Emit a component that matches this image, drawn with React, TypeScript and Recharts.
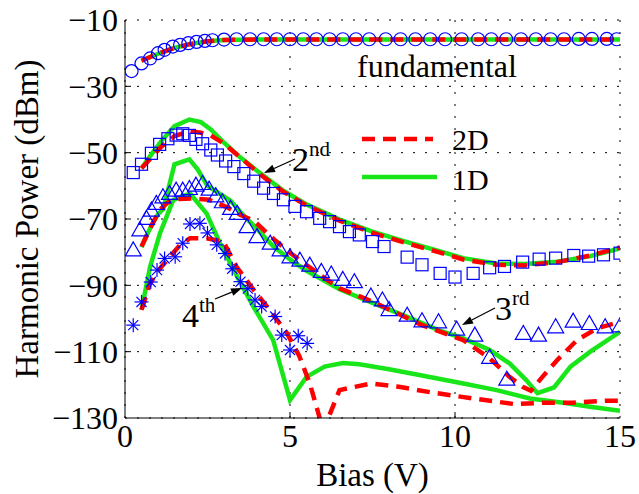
import { ComposedChart, Line, Scatter, XAxis, YAxis, CartesianGrid, Legend } from 'recharts';

const FONT = '"Liberation Serif", "Times New Roman", serif';
const BLUE = '#0000ff';
const RED = '#ff0000';
const GREEN = '#19e619';

const xTicks = [0, 5, 10, 15];
const yTicks = [-130, -110, -90, -70, -50, -30, -10];

// [bias (V), power (dBm)]
const fundMeasured: [number, number][] = [
  [0.2, -25.4], [0.5, -23.1], [0.76, -21.6], [1.0, -20.0], [1.2, -19.0], [1.45, -18.0],
  [1.67, -17.5], [1.92, -17.0], [2.17, -16.6], [2.42, -16.3], [2.65, -16.1], [3.0, -15.9],
  [3.38, -15.8], [3.79, -15.8], [4.2, -15.8], [4.6, -15.8], [5.0, -15.8], [5.4, -15.8],
  [5.8, -15.8], [6.2, -15.8], [6.6, -15.8], [7.0, -15.8], [7.4, -15.8], [7.9, -15.8],
  [8.35, -15.8], [8.8, -15.8], [9.25, -15.8], [9.7, -15.8], [10.2, -15.8], [10.7, -15.8],
  [11.1, -15.8], [11.55, -15.8], [12.0, -15.8], [12.45, -15.8], [12.9, -15.8], [13.3, -15.8],
  [13.75, -15.7], [14.15, -15.7], [14.6, -15.7], [14.9, -15.8],
];
const fund1D: [number, number][] = [
  [0.5, -22.3], [0.8, -21.0], [1.1, -19.8], [1.5, -18.4], [2.0, -17.2], [2.5, -16.4],
  [3.0, -16.0], [4.0, -15.9], [6.0, -15.9], [9.0, -15.9], [12.0, -15.9], [15.0, -15.9],
];
const fund2D: [number, number][] = [
  [0.5, -22.3], [0.8, -21.0], [1.1, -19.8], [1.5, -18.4], [2.0, -17.2], [2.5, -16.4],
  [3.0, -16.0], [4.0, -15.9], [6.0, -15.9], [9.0, -15.9], [12.0, -15.9], [15.0, -15.9],
];

const h2Measured: [number, number][] = [
  [0.25, -56], [0.5, -53.5], [0.8, -50.2], [1.05, -47.5], [1.3, -45.8], [1.55, -44.7],
  [1.75, -44.3], [1.95, -44.8], [2.15, -46], [2.35, -47.3], [2.6, -49.2], [2.8, -50.7],
  [3.05, -52.5], [3.3, -54.2], [3.6, -56.3], [3.9, -58.6], [4.2, -60.7], [4.5, -62.3],
  [4.8, -64.2], [5.15, -66.2], [5.5, -67.8], [5.9, -69.8], [6.2, -70.8], [6.5, -72.3],
  [6.8, -73.8], [7.1, -74.8], [7.5, -76.8], [7.85, -78.3], [8.55, -81.5], [9.0, -83.8],
  [9.55, -86.4], [10.0, -87.5], [10.55, -86.4], [11.05, -84.7], [11.5, -84.3], [12.05, -83.0],
  [12.55, -82.1], [13.05, -81.8], [13.6, -81.0], [14.05, -81.2], [14.5, -80.8], [15.0, -80.3],
];
const h2_1D: [number, number][] = [
  [0.5, -54.7], [0.8, -50.5], [1.1, -46.5], [1.5, -42.0], [1.95, -40.0], [2.3, -40.8],
  [2.6, -43.0], [3.0, -47.0], [3.5, -51.5], [4.1, -56.2], [4.8, -61.5], [5.5, -65.6],
  [6.5, -70.2], [7.5, -73.8], [8.5, -76.8], [9.5, -79.6], [10.25, -81.8], [11.25, -83.4],
  [12.1, -83.6], [13.1, -82.9], [14.1, -81.2], [15.0, -78.9],
];
const h2_2D: [number, number][] = [
  [0.5, -54.7], [0.8, -51.5], [1.1, -48.2], [1.5, -45.0], [1.95, -43.5], [2.3, -44.0],
  [2.6, -44.8], [3.0, -47.3], [3.5, -51.5], [4.1, -56.6], [4.8, -61.8], [5.5, -65.9],
  [6.5, -70.5], [7.5, -74.2], [8.5, -77.2], [9.5, -80.0], [10.25, -82.2], [11.25, -83.8],
  [12.1, -84.0], [13.1, -83.0], [14.1, -81.0], [15.0, -78.6],
];

const h3Measured: [number, number][] = [
  [0.25, -79.3], [0.45, -73.3], [0.65, -69.8], [0.8, -67.3], [0.95, -65.3], [1.15, -63.3],
  [1.35, -62.3], [1.55, -61.3], [1.75, -61.3], [1.95, -60.8], [2.15, -59.8], [2.35, -59.3],
  [2.55, -61.0], [2.75, -63.0], [2.95, -64.8], [3.2, -66.8], [3.4, -68.3], [3.7, -72.3],
  [4.0, -75.3], [4.4, -77.3], [4.7, -79.3], [5.0, -81.4], [5.3, -82.4], [5.6, -83.9],
  [5.95, -85.8], [6.25, -86.6], [6.6, -88.2], [6.95, -88.9], [7.45, -93.2], [7.8, -94.4],
  [8.0, -97.3], [8.55, -99.0], [9.0, -100.7], [9.5, -101.0], [10.05, -103.2], [10.6, -105.0],
  [11.05, -111.7], [11.57, -118.3], [12.07, -104.5], [12.53, -105.0], [13.05, -102.5],
  [13.58, -100.8], [14.07, -101.5], [14.55, -102.5], [15.0, -102.2],
];
const h3_1D: [number, number][] = [
  [0.5, -78.5], [0.7, -74.0], [1.0, -68.5], [1.16, -67.0], [1.5, -53.5], [1.95, -52.0],
  [2.2, -55.0], [2.5, -60.0], [2.9, -62.6], [3.2, -64.5], [3.6, -69.0], [4.0, -73.0],
  [4.5, -78.3], [5.0, -82.2], [5.5, -85.6], [6.0, -88.4], [6.5, -91.2], [7.5, -95.3],
  [8.5, -99.3], [9.5, -103.5], [10.25, -106.0], [11.05, -109.5], [11.65, -113.5],
  [12.15, -118.5], [12.5, -122.5], [13.0, -120.8], [13.5, -114.5], [14.1, -110.0], [15.0, -104.0],
];
const h3_2D: [number, number][] = [
  [0.5, -78.3], [0.8, -72.0], [1.05, -67.3], [1.3, -65.0], [1.6, -64.0], [2.05, -63.8],
  [2.55, -64.2], [3.1, -66.5], [3.5, -68.8], [3.9, -70.5], [4.5, -76.0], [5.0, -80.2],
  [5.9, -86.8], [6.5, -90.9], [7.5, -94.9], [8.2, -98.2], [9.0, -102.0], [10.25, -106.5],
  [11.05, -112.0], [11.65, -117.6], [12.05, -120.6], [12.3, -121.8], [12.65, -117.6],
  [13.1, -112.5], [13.7, -106.5], [14.3, -103.0], [15.0, -101.0],
];

const h4Measured: [number, number][] = [
  [0.25, -102], [0.5, -95], [0.78, -89], [0.97, -85.4], [1.2, -81.9], [1.52, -81.4],
  [1.75, -77.3], [1.97, -71.5], [2.27, -71.3], [2.5, -74.2], [2.78, -77.8], [3.03, -80.4],
  [3.25, -85.0], [3.5, -88.9], [3.72, -91.0], [3.94, -94.4], [4.14, -96.4], [4.55, -99.4],
  [4.75, -105.0], [5.0, -109.5], [5.25, -105.2], [5.52, -107.5],
];
const h4_1D: [number, number][] = [
  [0.5, -97.4], [0.76, -84.4], [1.06, -74.3], [1.46, -64.3], [1.97, -62.3], [2.47, -68.3],
  [2.88, -77.3], [3.38, -87.0], [3.89, -96.4], [4.49, -106.5], [5.0, -124.6], [5.5, -117.6],
  [6.05, -114.5], [6.6, -113.4], [7.1, -113.8], [8.0, -115.3], [9.0, -117.2], [10.25, -119.6],
  [11.26, -121.6], [12.27, -124.1], [13.28, -125.4], [14.09, -126.6], [15.0, -127.8],
];
const h4_2D: [number, number][] = [
  [0.5, -97.4], [0.76, -89.4], [1.05, -85.0], [1.36, -81.4], [1.67, -77.8], [1.97, -75.8],
  [2.47, -75.8], [2.98, -76.8], [3.38, -84.4], [3.9, -91.4], [4.34, -96.9], [4.9, -104.3],
  [5.28, -111.3], [5.6, -119.6], [5.9, -130], [6.03, -134], [6.16, -130], [6.5, -121.6],
  [7.45, -119.6], [8.3, -120.6], [9.24, -122.2], [10.05, -123.4], [11.06, -124.8],
  [11.8, -125.8], [12.68, -125.4], [13.58, -125.4], [14.6, -124.8], [15.0, -124.8],
];

const pts = (a: [number, number][]) => a.map(([x, y]) => ({ x, y }));

const fmt = (v: number) => (v < 0 ? '\u2212' + Math.abs(v) : String(v));

const CircleMark = (p: any) => (
  <circle cx={p.cx} cy={p.cy} r={6.5} fill="none" stroke={BLUE} strokeWidth={1.2} />
);
const SquareMark = (p: any) => (
  <rect x={p.cx - 6} y={p.cy - 6} width={12} height={12} fill="none" stroke={BLUE} strokeWidth={1.2} />
);
const TriMark = (p: any) => (
  <polygon
    points={`${p.cx},${p.cy - 8} ${p.cx - 8},${p.cy + 6} ${p.cx + 8},${p.cy + 6}`}
    fill="none"
    stroke={BLUE}
    strokeWidth={1.2}
  />
);
const StarMark = (p: any) => {
  const r = 7;
  const d = r * 0.72;
  return (
    <g stroke={BLUE} strokeWidth={1.2}>
      <line x1={p.cx - r} x2={p.cx + r} y1={p.cy} y2={p.cy} />
      <line x1={p.cx} x2={p.cx} y1={p.cy - r} y2={p.cy + r} />
      <line x1={p.cx - d} x2={p.cx + d} y1={p.cy - d} y2={p.cy + d} />
      <line x1={p.cx - d} x2={p.cx + d} y1={p.cy + d} y2={p.cy - d} />
    </g>
  );
};

const BottomTick = ({ x, y, payload }: any) => (
  <g>
    {payload.value > 0 && payload.value < 15 && (
      <line x1={x} x2={x} y1={y - 6} y2={y - 12} stroke="#000" />
    )}
    <text x={x} y={y} dy="0.71em" textAnchor="middle" fontSize={32} fontFamily={FONT} fill="#000">
      {fmt(payload.value)}
    </text>
  </g>
);
const TopTick = ({ x, y, payload }: any) =>
  payload.value > 0 && payload.value < 15 ? (
    <line x1={x} x2={x} y1={y} y2={y + 6} stroke="#000" />
  ) : (
    <g />
  );
const LeftTick = ({ x, y, payload }: any) => (
  <g>
    {payload.value > -130 && payload.value < -10 && (
      <line x1={x + 7} x2={x + 13} y1={y} y2={y} stroke="#000" />
    )}
    <text x={x} y={y} dy="0.35em" textAnchor="end" fontSize={32} fontFamily={FONT} fill="#000">
      {fmt(payload.value)}
    </text>
  </g>
);
const RightTick = ({ x, y, payload }: any) =>
  payload.value > -130 && payload.value < -10 ? (
    <line x1={x} x2={x - 6} y1={y} y2={y} stroke="#000" />
  ) : (
    <g />
  );

const Arrow = ({ x1, y1, x2, y2 }: { x1: number; y1: number; x2: number; y2: number }) => {
  const a = Math.atan2(y2 - y1, x2 - x1);
  const L = 11;
  const hw = 4;
  const bx = x2 - L * Math.cos(a);
  const by = y2 - L * Math.sin(a);
  const px = -Math.sin(a) * hw;
  const py = Math.cos(a) * hw;
  return (
    <g>
      <line x1={x1} y1={y1} x2={bx} y2={by} stroke="#000" strokeWidth={1.3} />
      <polygon points={`${x2},${y2} ${bx + px},${by + py} ${bx - px},${by - py}`} fill="#000" />
    </g>
  );
};

const LegendBox = () => (
  <svg width={170} height={80} style={{ display: 'block' }}>
    <line x1={7} x2={78} y1={21} y2={21} stroke={RED} strokeWidth={4.5} strokeDasharray="13 8" />
    <text x={97} y={32} fontSize={30} fontFamily={FONT} fill="#000">2D</text>
    <line x1={7} x2={82} y1={59} y2={59} stroke={GREEN} strokeWidth={4.5} />
    <text x={97} y={72} fontSize={30} fontFamily={FONT} fill="#000">1D</text>
  </svg>
);

const Sup = ({ x, y, main, sup }: { x: number; y: number; main: string; sup: string }) => (
  <text x={x} y={y} fontFamily={FONT} fill="#000">
    <tspan fontSize={34}>{main}</tspan>
    <tspan fontSize={21} dy={-15}>{sup}</tspan>
  </text>
);

const App = () => {
  const lineProps = { type: 'linear' as const, dataKey: 'y', dot: false, activeDot: false, isAnimationActive: false, legendType: 'none' as const };
  return (
    <div style={{ position: 'absolute', left: 0, top: 0, width: 639, height: 494, background: '#fff' }}>
      <ComposedChart width={639} height={494} margin={{ top: 20, right: 19, bottom: 0, left: 0 }}>
        <CartesianGrid stroke="#000" strokeDasharray="2 10" strokeWidth={1} />
        <XAxis
          dataKey="x"
          type="number"
          domain={[0, 15]}
          ticks={xTicks}
          height={76}
          tickSize={0}
          tickMargin={6}
          tickLine={false}
          tick={<BottomTick />}
          axisLine={{ stroke: '#000' }}
          allowDataOverflow
          label={{ value: 'Bias (V)', position: 'insideBottom', offset: 8, fontSize: 33, fontFamily: FONT, fill: '#000' }}
        />
        <XAxis
          xAxisId="top"
          orientation="top"
          type="number"
          domain={[0, 15]}
          ticks={xTicks}
          height={0}
          tickSize={0}
          tickMargin={0}
          tickLine={false}
          tick={<TopTick />}
          axisLine={{ stroke: '#000' }}
        />
        <YAxis
          dataKey="y"
          type="number"
          domain={[-130, -10]}
          ticks={yTicks}
          width={125}
          tickSize={0}
          tickMargin={7}
          tickLine={false}
          tick={<LeftTick />}
          axisLine={{ stroke: '#000' }}
          allowDataOverflow
          label={{
            value: 'Harmonic Power (dBm)',
            angle: -90,
            position: 'insideLeft',
            offset: 26,
            style: { textAnchor: 'middle', fontSize: 33, fontFamily: FONT, fill: '#000' },
          }}
        />
        <YAxis
          yAxisId="right"
          orientation="right"
          type="number"
          domain={[-130, -10]}
          ticks={yTicks}
          width={0}
          tickSize={0}
          tickMargin={0}
          tickLine={false}
          tick={<RightTick />}
          axisLine={{ stroke: '#000' }}
        />

        <Scatter data={pts(fundMeasured)} shape={CircleMark} isAnimationActive={false} legendType="none" />
        <Scatter data={pts(h2Measured)} shape={SquareMark} isAnimationActive={false} legendType="none" />
        <Scatter data={pts(h3Measured)} shape={TriMark} isAnimationActive={false} legendType="none" />
        <Scatter data={pts(h4Measured)} shape={StarMark} isAnimationActive={false} legendType="none" />

        <Line {...lineProps} data={pts(fund1D)} stroke={GREEN} strokeWidth={4.5} />
        <Line {...lineProps} data={pts(h2_1D)} stroke={GREEN} strokeWidth={4.5} />
        <Line {...lineProps} data={pts(h3_1D)} stroke={GREEN} strokeWidth={4.5} />
        <Line {...lineProps} data={pts(h4_1D)} stroke={GREEN} strokeWidth={4.5} />

        <Line {...lineProps} data={pts(fund2D)} stroke={RED} strokeWidth={4.5} strokeDasharray="13 8" />
        <Line {...lineProps} data={pts(h2_2D)} stroke={RED} strokeWidth={4.5} strokeDasharray="13 8" />
        <Line {...lineProps} data={pts(h3_2D)} stroke={RED} strokeWidth={4.5} strokeDasharray="13 8" />
        <Line {...lineProps} data={pts(h4_2D)} stroke={RED} strokeWidth={4.5} strokeDasharray="13 8" />

        <Legend
          layout="vertical"
          align="center"
          verticalAlign="middle"
          content={<LegendBox />}
          wrapperStyle={{ left: 355, top: 118, width: 170, height: 80 }}
        />
      </ComposedChart>
      <svg width={639} height={494} style={{ position: 'absolute', left: 0, top: 0, pointerEvents: 'none' }}>
        <text x={357} y={77} fontSize={32} fontFamily={FONT} fill="#000">fundamental</text>
        <Sup x={292} y={171} main="2" sup="nd" />
        <Arrow x1={295} y1={159} x2={264} y2={173} />
        <Sup x={495} y={320} main="3" sup="rd" />
        <Arrow x1={495} y1={308} x2={462} y2={325} />
        <Sup x={182} y={327} main="4" sup="th" />
        <Arrow x1={215} y1={299} x2={242} y2={288} />
      </svg>
    </div>
  );
};

export default App;
